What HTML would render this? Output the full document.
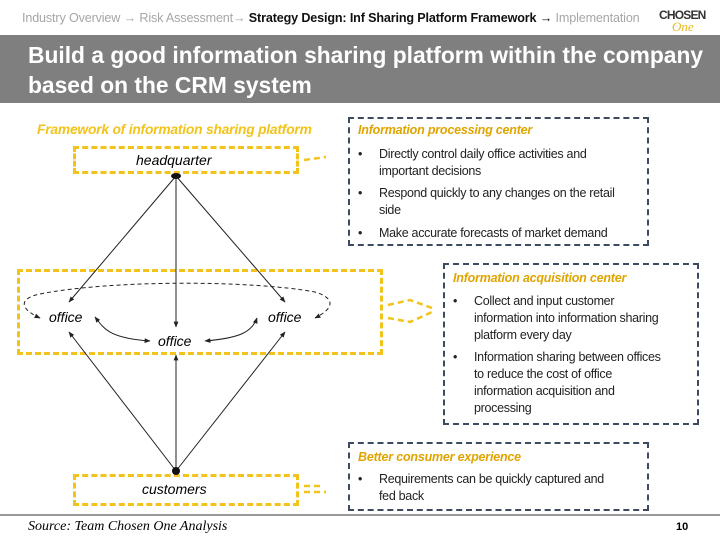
<!DOCTYPE html>
<html><head><meta charset="utf-8"><style>
body{margin:0;width:720px;height:540px;position:relative;background:#fff;font-family:"Liberation Sans",sans-serif;overflow:hidden}
.a{position:absolute;white-space:nowrap}
.box{position:absolute;box-sizing:border-box}
.nb{border:2px dashed #3d4b60}
.yb{border:3px dashed #f2c31a}
.h{color:#e0a400;font-weight:bold;font-style:italic;font-size:12.5px;letter-spacing:-0.2px}
.t{position:absolute;white-space:nowrap;font-size:12.5px;line-height:17px;color:#222;letter-spacing:-0.3px}
.b{position:absolute;font-size:12.5px;line-height:17px;color:#222}
</style></head><body>
<div class="a" style="left:22px;top:11px;font-size:12.6px;color:#a6a6a6;letter-spacing:-0.15px">Industry Overview → Risk Assessment→ <b style="color:#111">Strategy Design: Inf Sharing Platform Framework</b> <span style="color:#111">→</span> Implementation</div>
<div class="a" style="left:659px;top:8px;font-weight:bold;font-size:12px;color:#333;letter-spacing:-0.8px">CHOSEN</div>
<div class="a" style="left:672px;top:19px;font-style:italic;font-size:13px;color:#e8b820;font-family:'Liberation Serif',serif">One</div>
<div class="box" style="left:0;top:35px;width:720px;height:68px;background:#7f7f7f"></div>
<div class="a" style="left:28px;top:40px;color:#fff;font-weight:bold;font-size:22.8px;line-height:30px">Build a good information sharing platform within the company<br>based on the CRM system</div>
<div class="a" style="left:37px;top:122px;color:#f2c31a;font-weight:bold;font-style:italic;font-size:13.8px;letter-spacing:-0.2px">Framework of information sharing platform</div>
<div class="box yb" style="left:73px;top:146px;width:226px;height:28px"></div>
<div class="a" style="left:136px;top:152px;font-style:italic;font-size:14px">headquarter</div>
<div class="box yb" style="left:17px;top:269px;width:366px;height:86px"></div>
<div class="a" style="left:49px;top:309px;font-style:italic;font-size:14px">office</div>
<div class="a" style="left:268px;top:309px;font-style:italic;font-size:14px">office</div>
<div class="a" style="left:158px;top:333px;font-style:italic;font-size:14px">office</div>
<div class="box yb" style="left:73px;top:474px;width:226px;height:32px"></div>
<div class="a" style="left:142px;top:481px;font-style:italic;font-size:14px">customers</div>

<div class="box nb" style="left:348px;top:117px;width:301px;height:129px"></div>
<div class="a h" style="left:358px;top:123px">Information processing center</div>
<div class="b" style="left:358px;top:146px">•</div><div class="t" style="left:379px;top:146px">Directly control daily office activities and<br>important decisions</div>
<div class="b" style="left:358px;top:185px">•</div><div class="t" style="left:379px;top:185px">Respond quickly to any changes on the retail<br>side</div>
<div class="b" style="left:358px;top:225px">•</div><div class="t" style="left:379px;top:225px">Make accurate forecasts of market demand</div>

<div class="box nb" style="left:443px;top:263px;width:256px;height:162px"></div>
<div class="a h" style="left:453px;top:271px">Information acquisition center</div>
<div class="b" style="left:453px;top:293px">•</div><div class="t" style="left:474px;top:293px">Collect and input customer<br>information into information sharing<br>platform every day</div>
<div class="b" style="left:453px;top:349px">•</div><div class="t" style="left:474px;top:349px">Information sharing between offices<br>to reduce the cost of office<br>information acquisition and<br>processing</div>

<div class="box nb" style="left:348px;top:442px;width:301px;height:69px"></div>
<div class="a h" style="left:358px;top:450px">Better consumer experience</div>
<div class="b" style="left:358px;top:471px">•</div><div class="t" style="left:379px;top:471px">Requirements can be quickly captured and<br>fed back</div>

<svg class="a" style="left:0;top:0" width="720" height="540">
<defs><marker id="m" viewBox="0 0 10 10" refX="9" refY="5" markerWidth="6" markerHeight="6" orient="auto-start-reverse"><path d="M0,1L10,5L0,9z" fill="#222"/></marker></defs>
<g stroke="#222" stroke-width="1" fill="none">
<line x1="176" y1="176" x2="69" y2="302" marker-end="url(#m)"/>
<line x1="176" y1="176" x2="285" y2="302" marker-end="url(#m)"/>
<line x1="176" y1="176" x2="176" y2="327" marker-end="url(#m)"/>
<line x1="176" y1="471" x2="69" y2="332" marker-end="url(#m)"/>
<line x1="176" y1="471" x2="176" y2="355" marker-end="url(#m)"/>
<line x1="176" y1="471" x2="285" y2="332" marker-end="url(#m)"/>
<path d="M40,318 C18,308 20,298 40,294 C110,280 250,280 315,292 C335,298 335,308 315,318" stroke-dasharray="4,3" marker-start="url(#m)" marker-end="url(#m)"/>
<path d="M95,317 C105,330 110,338 150,341" marker-start="url(#m)" marker-end="url(#m)"/>
<path d="M257,318 C252,332 240,338 205,341" marker-start="url(#m)" marker-end="url(#m)"/>
</g>
<ellipse cx="176" cy="176" rx="5" ry="3" fill="#111"/>
<ellipse cx="176" cy="471" rx="4" ry="4" fill="#111"/>
<g stroke="#f2c31a" stroke-width="2.5" fill="none" stroke-dasharray="6,4">
<path d="M304,160 L326,157"/><path d="M304,492 L326,492"/><path d="M304,486 L320,486"/>
<path d="M388,305 L410,300 L432,308"/><path d="M388,318 L410,322 L432,312"/>
</g>
<line x1="0" y1="515" x2="720" y2="515" stroke="#999" stroke-width="2"/>
</svg>
<div class="a" style="left:28px;top:519px;font-family:'Liberation Serif',serif;font-style:italic;font-size:14px">Source: Team Chosen One Analysis</div>
<div class="a" style="left:676px;top:521px;font-weight:bold;font-size:11px">10</div>
</body></html>
